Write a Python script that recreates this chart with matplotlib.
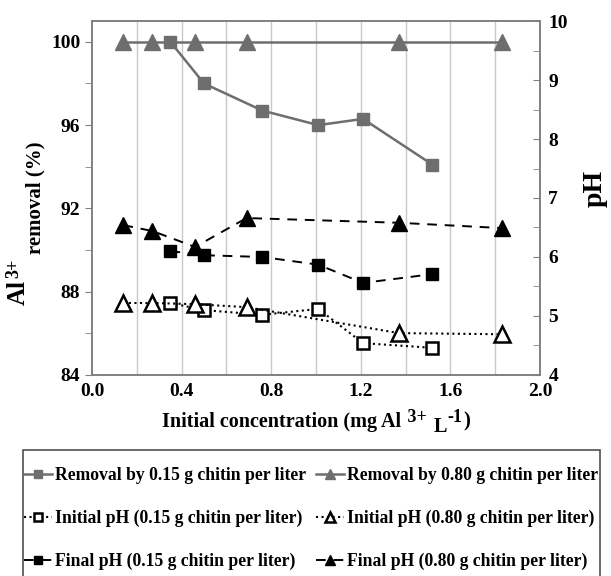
import matplotlib.pyplot as plt
from matplotlib.ticker import MultipleLocator
from matplotlib.patches import Rectangle

plt.rcParams['font.family'] = 'Liberation Serif'
plt.rcParams['font.weight'] = 'bold'

# Removal (%) data, left axis
x_rem15 = [0.35, 0.50, 0.76, 1.01, 1.21, 1.52]
rem15 = [100.0, 98.0, 96.7, 96.0, 96.3, 94.1]
x_rem80 = [0.14, 0.27, 0.46, 0.69, 1.37, 1.83]
rem80 = [100.0, 100.0, 100.0, 100.0, 100.0, 100.0]

# pH data, right axis
init15 = [5.22, 5.10, 5.02, 5.12, 4.54, 4.46]
init80 = [5.22, 5.22, 5.20, 5.15, 4.71, 4.69]
final15 = [6.10, 6.03, 6.00, 5.87, 5.56, 5.71]
final80 = [6.54, 6.44, 6.17, 6.66, 6.58, 6.49]

grey = '#6e6e6e'
W, H = 611, 576

fig = plt.figure(figsize=(6.11, 5.76), dpi=100)
ax = fig.add_axes([0.1506, 0.349, 0.7332, 0.6145])
ax2 = ax.twinx()

# removal lines
h1, = ax.plot(x_rem15, rem15, color=grey, lw=1.8, marker='s', ms=9,
              label='Removal by 0.15 g chitin per liter')
h4, = ax.plot(x_rem80, rem80, color=grey, lw=1.8, marker='^', ms=12,
              label='Removal by 0.80 g chitin per liter')

# pH lines
h2, = ax2.plot(x_rem15, init15, color='black', lw=1.5, ls=':', marker='s', ms=9,
               mfc='white', mew=1.8, label='Initial pH (0.15 g chitin per liter)')
h5, = ax2.plot(x_rem80, init80, color='black', lw=1.5, ls=':', marker='^', ms=12,
               mfc='white', mew=1.8, label='Initial pH (0.80 g chitin per liter)')
h3, = ax2.plot(x_rem15, final15, color='black', lw=1.4, ls=(0, (5, 4)), marker='s', ms=9,
               label='Final pH (0.15 g chitin per liter)')
h6, = ax2.plot(x_rem80, final80, color='black', lw=1.4, ls=(0, (5, 4)), marker='^', ms=12,
               label='Final pH (0.80 g chitin per liter)')

ax.set_xlim(0, 2.0)
ax.set_ylim(84, 101)
ax2.set_ylim(4, 10)
ax.xaxis.set_major_locator(MultipleLocator(0.4))
ax.set_yticks([84, 88, 92, 96, 100])
ax.yaxis.set_minor_locator(MultipleLocator(2))
ax2.yaxis.set_major_locator(MultipleLocator(1))
ax2.yaxis.set_minor_locator(MultipleLocator(0.5))
ax.xaxis.set_major_formatter(plt.FuncFormatter(lambda v, p: f'{v:.1f}'))

for xv in [0.2, 0.4, 0.6, 0.8, 1.0, 1.2, 1.4, 1.6, 1.8]:
    ax.axvline(xv, color='#c8c8c8', lw=1, zorder=0)

ax.tick_params(axis='x', which='both', length=0, labelsize=14, pad=6)
ax.tick_params(axis='y', which='both', direction='out', length=5, color='#808080', labelsize=14)
ax2.tick_params(axis='y', which='both', direction='in', length=5, color='#808080',
                labelsize=14, pad=6)

for a in (ax, ax2):
    for s in a.spines.values():
        s.set_color('#808080')
        s.set_linewidth(1.2)

# x label built from pieces so the superscripts keep full size
t = fig.text(162 / W, 1 - 432 / H, 'Initial concentration (mg Al', fontsize=14.5,
             ha='left', va='bottom')
pieces = [(' 3+', 13, 1, 4), (' L', 14.5, 2, -7.5), ('-1', 13, 0, 7.5), (')', 15, 1, -3.5)]
for s, fs, dx, dy in pieces:
    t = ax.annotate(s, xy=(1, 0), xycoords=t, xytext=(dx, dy), textcoords='offset points',
                    fontsize=fs, ha='left', va='bottom', annotation_clip=False)

# left label: "Al3+" large, "removal (%)" on a lower baseline
fig.text(25 / W, 1 - 305 / H, 'Al', rotation=90, rotation_mode='anchor', fontsize=18,
         ha='left', va='baseline')
fig.text(18 / W, 1 - 278 / H, '3+', rotation=90, rotation_mode='anchor', fontsize=13,
         ha='left', va='baseline')
fig.text(40 / W, 1 - 254 / H, 'removal (%)', rotation=90, rotation_mode='anchor',
         fontsize=15, ha='left', va='baseline')

# right label
fig.text(595 / W, 1 - 188 / H, 'pH', rotation=90, fontsize=20, ha='center', va='center')

handles = [h1, h2, h3, h4, h5, h6]
leg = fig.legend(handles=handles, loc='upper left', ncol=2,
                 bbox_to_anchor=(24 / W, 1 - 467 / H),
                 fontsize=12.7, frameon=False,
                 labelspacing=1.45, handlelength=1.6, handletextpad=0.15,
                 columnspacing=0.55, borderaxespad=0, borderpad=0, markerscale=0.6)

fig.patches.append(Rectangle((23 / W, -0.05), 577 / W, 0.05 + 126 / H,
                             transform=fig.transFigure, fill=False,
                             edgecolor='#505050', lw=1.2))

fig.savefig('out.png', dpi=100)
